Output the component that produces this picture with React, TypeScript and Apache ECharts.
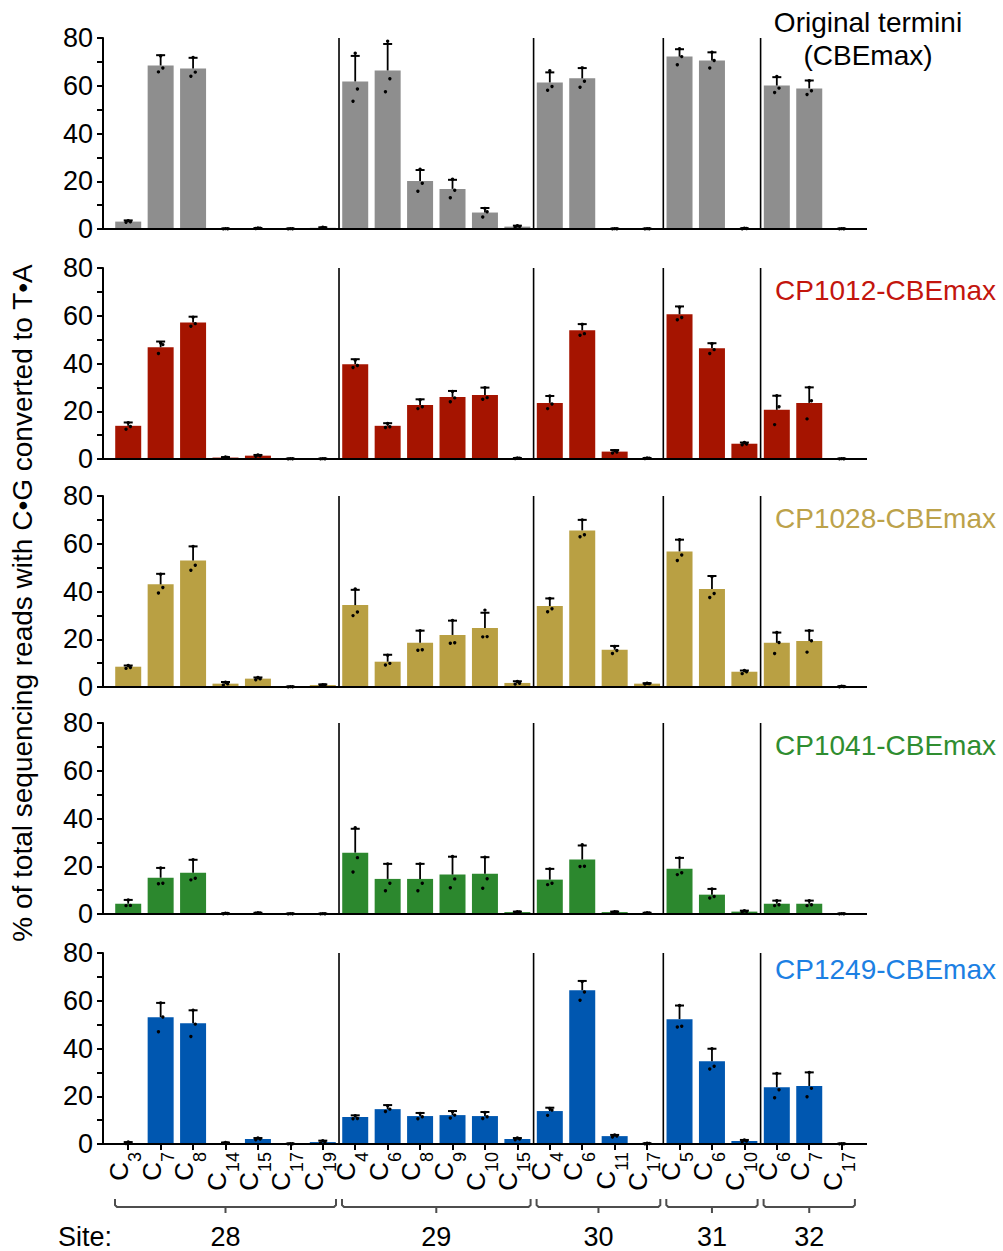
import React, { useEffect, useRef } from 'react';
import * as echarts from 'echarts';

// ---------- data ----------
const CATEGORIES = ['C3', 'C7', 'C8', 'C14', 'C15', 'C17', 'C19', 'C4', 'C6', 'C8', 'C9', 'C10', 'C15', 'C4', 'C6', 'C11', 'C17', 'C5', 'C6', 'C10', 'C6', 'C7', 'C17'];
const SITES = ['28', '29', '30', '31', '32'];
const SITE_SIZES = [7, 6, 4, 3, 3];
const Y_MIN = 0;
const Y_MAX = 80;
const Y_STEP = 20;

const PANEL_NAMES = ['Original termini\n(CBEmax)', 'CP1012-CBEmax', 'CP1028-CBEmax', 'CP1041-CBEmax', 'CP1249-CBEmax'];
const BAR_COLORS = ['#8e8e8e', '#a51400', '#b9a043', '#2c882e', '#0057b0'];
const TITLE_COLORS = ['#000000', '#c3150d', '#bca24a', '#2f8d30', '#1c80e3'];

const MEAN_ORIGINAL = [3.1, 68.5, 67.2, 0.1, 0.3, 0.1, 0.5, 61.8, 66.4, 20.1, 16.8, 6.9, 1.0, 61.4, 63.1, 0.1, 0.1, 72.2, 70.6, 0.2, 60.1, 58.9, 0.1];
const SD_ORIGINAL = [0.5, 4.3, 4.5, 0.05, 0.1, 0.05, 0.2, 10.7, 11.1, 4.6, 3.8, 1.9, 0.4, 4.2, 4.3, 0.05, 0.05, 3.1, 3.4, 0.05, 3.5, 3.3, 0.05];
const REPS_ORIGINAL = [
  [2.8, 3.0, 3.5], [65.8, 67.4, 72.5], [64.0, 65.7, 71.8], [0.05, 0.1, 0.15], [0.2, 0.3, 0.4], [0.05, 0.1, 0.15], [0.3, 0.5, 0.7],
  [53.5, 58.6, 73.6], [57.5, 62.9, 78.6], [15.8, 19.2, 25.0], [13.1, 16.2, 20.8], [5.0, 7.2, 8.6], [0.6, 1.0, 1.4],
  [58.1, 59.7, 66.3], [59.4, 61.9, 67.5], [0.05, 0.1, 0.15], [0.05, 0.1, 0.15],
  [68.8, 72.2, 75.5], [67.4, 70.6, 74.0], [0.1, 0.2, 0.3],
  [57.2, 59.0, 63.9], [56.3, 57.9, 62.1], [0.05, 0.1, 0.15],
];

const MEAN_CP1012 = [13.9, 46.8, 57.2, 0.6, 1.4, 0.1, 0.1, 39.7, 13.9, 22.6, 26.0, 26.8, 0.3, 23.5, 53.9, 3.1, 0.3, 60.6, 46.4, 6.4, 20.6, 23.5, 0.1];
const SD_CP1012 = [1.4, 2.4, 2.4, 0.2, 0.3, 0.05, 0.05, 2.1, 1.1, 2.4, 2.5, 3.1, 0.1, 2.9, 2.6, 0.65, 0.1, 3.3, 2.1, 0.5, 5.9, 6.5, 0.05];
const REPS_CP1012 = [
  [12.5, 13.6, 15.2], [44.2, 47.9, 48.6], [55.6, 56.7, 59.4], [0.4, 0.6, 0.8], [1.1, 1.4, 1.7], [0.05, 0.1, 0.15], [0.05, 0.1, 0.15],
  [38.3, 39.2, 41.4], [13.2, 13.5, 14.9], [21.1, 21.9, 24.7], [24.0, 25.6, 28.3], [25.0, 25.7, 29.9], [0.2, 0.3, 0.4],
  [21.1, 23.0, 26.4], [51.8, 52.5, 56.4], [2.5, 2.9, 3.5], [0.2, 0.3, 0.4],
  [58.3, 59.3, 63.6], [44.2, 45.8, 48.3], [6.0, 6.3, 6.9],
  [14.4, 21.9, 26.5], [16.8, 24.4, 30.0], [0.05, 0.1, 0.15],
];

const MEAN_CP1028 = [8.5, 43.0, 53.0, 1.4, 3.5, 0.1, 0.8, 34.3, 10.6, 18.5, 21.8, 24.7, 1.7, 33.9, 65.6, 15.6, 1.4, 56.8, 41.0, 6.4, 18.5, 19.3, 0.2];
const SD_CP1028 = [0.5, 4.4, 5.9, 0.7, 0.5, 0.05, 0.3, 6.4, 2.9, 5.1, 6.0, 6.4, 0.7, 3.2, 4.4, 1.6, 0.2, 4.9, 5.5, 0.5, 4.3, 4.3, 0.05];
const REPS_CP1028 = [
  [7.8, 8.2, 9.0], [39.4, 41.7, 47.2], [48.9, 51.0, 58.9], [0.8, 1.3, 2.0], [3.0, 3.4, 4.0], [0.05, 0.1, 0.15], [0.6, 0.8, 1.0],
  [29.9, 31.4, 41.1], [9.2, 9.9, 13.3], [15.4, 15.6, 23.6], [18.3, 18.5, 27.9], [21.0, 21.1, 32.2], [1.2, 1.6, 2.3],
  [31.5, 32.8, 37.1], [62.9, 63.8, 70.0], [14.0, 15.3, 17.0], [1.2, 1.4, 1.6],
  [53.0, 55.3, 61.7], [37.5, 39.2, 46.2], [5.6, 6.4, 6.9],
  [14.0, 18.6, 22.8], [14.6, 19.4, 23.6], [0.1, 0.2, 0.3],
];

const MEAN_CP1041 = [4.3, 15.2, 17.3, 0.2, 0.4, 0.1, 0.1, 25.7, 14.7, 14.7, 16.5, 16.9, 0.8, 14.4, 22.8, 0.8, 0.4, 19.0, 8.1, 1.0, 4.3, 4.3, 0.1];
const SD_CP1041 = [1.6, 4.1, 5.4, 0.05, 0.1, 0.05, 0.05, 10.0, 6.3, 6.3, 7.5, 6.9, 0.2, 4.5, 5.9, 0.2, 0.1, 4.5, 2.4, 0.4, 1.3, 1.3, 0.05];
const REPS_CP1041 = [
  [3.5, 3.6, 5.9], [12.7, 12.9, 19.3], [14.3, 15.0, 22.7], [0.1, 0.2, 0.3], [0.3, 0.4, 0.5], [0.05, 0.1, 0.15], [0.05, 0.1, 0.15],
  [17.6, 23.6, 36.1], [9.7, 12.9, 21.0], [9.7, 12.9, 21.0], [11.0, 14.7, 24.1], [10.8, 14.8, 23.8], [0.6, 0.8, 1.0],
  [12.3, 12.9, 18.9], [19.9, 20.0, 29.0], [0.6, 0.8, 1.0], [0.3, 0.4, 0.5],
  [16.5, 17.3, 23.5], [6.7, 7.3, 10.5], [0.7, 1.0, 1.4],
  [3.5, 3.9, 5.6], [3.5, 3.9, 5.6], [0.05, 0.1, 0.15],
];

const MEAN_CP1249 = [0.4, 53.1, 50.6, 0.4, 2.1, 0.1, 0.8, 11.3, 14.6, 11.7, 12.1, 11.7, 2.1, 13.8, 64.4, 3.3, 0.2, 52.3, 34.7, 1.25, 23.8, 24.3, 0.1];
const SD_CP1249 = [0.4, 6.0, 5.4, 0.2, 0.4, 0.05, 0.6, 0.7, 1.7, 1.3, 1.7, 1.7, 0.4, 1.4, 3.9, 0.5, 0.05, 5.7, 5.2, 0.45, 5.7, 5.7, 0.05];
const REPS_CP1249 = [
  [0.2, 0.4, 0.8], [47.0, 53.2, 59.1], [45.0, 50.2, 56.0], [0.3, 0.4, 0.6], [1.8, 2.1, 2.5], [0.05, 0.1, 0.15], [0.4, 0.8, 1.4],
  [10.6, 10.7, 11.8], [13.6, 14.6, 16.0], [10.6, 11.4, 12.8], [10.9, 12.1, 13.5], [10.7, 11.4, 13.2], [1.8, 2.1, 2.5],
  [12.0, 14.2, 14.9], [60.2, 63.7, 68.0], [2.9, 3.3, 3.8], [0.1, 0.2, 0.3],
  [49.0, 49.3, 58.0], [31.4, 32.6, 39.9], [0.9, 1.2, 1.7],
  [19.4, 22.7, 29.5], [19.8, 23.3, 30.0], [0.05, 0.1, 0.15],
];

const MEANS = [MEAN_ORIGINAL, MEAN_CP1012, MEAN_CP1028, MEAN_CP1041, MEAN_CP1249];
const SDS = [SD_ORIGINAL, SD_CP1012, SD_CP1028, SD_CP1041, SD_CP1249];
const REPS = [REPS_ORIGINAL, REPS_CP1012, REPS_CP1028, REPS_CP1041, REPS_CP1249];

const Y_TITLE = '% of total sequencing reads with C\u2022G converted to T\u2022A';

// ---------- layout ----------
const FONT = '"Liberation Sans", Arial, Helvetica, sans-serif';
const GRID_LEFT = 112;
const BAND = 32.43;
const GRID_WIDTH = BAND * CATEGORIES.length;
const GRID_TOPS = [38, 268, 496, 723, 953];
const GRID_H = 191;
const AXIS_X0 = 103;
const AXIS_X1 = 867;
const TITLE_Y = [38.5, 290, 518, 745, 969];
const DOT_OFFSETS = [-2.2, 2.2, 0];

function buildOption() {
  const boundaries: number[] = [];
  let acc = 0;
  SITE_SIZES.forEach((s, k) => {
    if (k > 0) boundaries.push(acc);
    acc += s;
  });

  const grids: any[] = [];
  const xAxes: any[] = [];
  const yAxes: any[] = [];
  const series: any[] = [];
  const graphics: any[] = [];

  for (let p = 0; p < 5; p++) {
    const isLast = p === 4;
    grids.push({ left: GRID_LEFT, top: GRID_TOPS[p], width: GRID_WIDTH, height: GRID_H, containLabel: false });
    xAxes.push({
      type: 'category',
      gridIndex: p,
      data: CATEGORIES.map((c, i) => c + '#' + i),
      boundaryGap: true,
      axisLine: { show: true, lineStyle: { color: '#000', width: 2 } },
      axisTick: { show: isLast, alignWithLabel: true, interval: 0, length: 6, lineStyle: { color: '#000', width: 2 } },
      axisLabel: {
        show: isLast,
        interval: 0,
        rotate: 90,
        margin: 8,
        color: '#000',
        padding: [0, 0, 6, 0],
        formatter: (v: string) => {
          const c = v.split('#')[0];
          return '{c|C}{s|' + c.slice(1) + '}';
        },
        rich: {
          c: { fontSize: 26, fontFamily: FONT, color: '#000', verticalAlign: 'bottom', padding: [0, 0, 12, 0] },
          s: { fontSize: 18, fontFamily: FONT, color: '#000', verticalAlign: 'bottom' },
        },
      },
      splitLine: { show: false },
    });
    yAxes.push({
      type: 'value',
      gridIndex: p,
      min: Y_MIN,
      max: Y_MAX,
      interval: Y_STEP,
      offset: GRID_LEFT - AXIS_X0,
      axisLine: { show: true, lineStyle: { color: '#000', width: 2 } },
      axisTick: { show: true, inside: false, length: 6, lineStyle: { color: '#000', width: 2 } },
      minorTick: { show: true, splitNumber: 2, length: 6, lineStyle: { color: '#000', width: 2 } },
      axisLabel: { fontSize: 27, fontFamily: FONT, color: '#000', margin: 10 },
      splitLine: { show: false },
    });

    const means = MEANS[p];
    const sds = SDS[p];
    const reps = REPS[p];
    series.push({
      type: 'bar',
      xAxisIndex: p,
      yAxisIndex: p,
      data: means,
      barWidth: 26,
      itemStyle: { color: BAR_COLORS[p] },
      z: 2,
    });
    // site separators: vertical lines at the left edge of the first category of each site
    series.push({
      type: 'custom',
      xAxisIndex: p,
      yAxisIndex: p,
      z: 1,
      silent: true,
      data: boundaries.map((b) => [b, Y_MIN, Y_MAX]),
      renderItem: (params: any, api: any) => {
        const i = api.value(0);
        const bottom = api.coord([i, api.value(1)]);
        const top = api.coord([i, api.value(2)]);
        const half = api.size([1, 0])[0] / 2;
        return {
          type: 'line',
          shape: { x1: bottom[0] - half, y1: bottom[1], x2: top[0] - half, y2: top[1] },
          style: { stroke: '#000', lineWidth: 1.6 },
        };
      },
    });
    series.push({
      type: 'custom',
      xAxisIndex: p,
      yAxisIndex: p,
      z: 3,
      data: means.map((m, i) => [i, m, m + sds[i]]),
      renderItem: (params: any, api: any) => {
        const i = api.value(0);
        const base = api.coord([i, api.value(1)]);
        const top = api.coord([i, api.value(2)]);
        return {
          type: 'group',
          children: [
            { type: 'line', shape: { x1: base[0], y1: base[1], x2: top[0], y2: top[1] }, style: { stroke: '#000', lineWidth: 1.8 } },
            { type: 'line', shape: { x1: top[0] - 4.5, y1: top[1], x2: top[0] + 4.5, y2: top[1] }, style: { stroke: '#000', lineWidth: 2 } },
          ],
        };
      },
    });
    const dotData: number[][] = [];
    reps.forEach((r, i) => r.forEach((v, k) => dotData.push([i, v, k])));
    series.push({
      type: 'custom',
      xAxisIndex: p,
      yAxisIndex: p,
      z: 4,
      data: dotData,
      renderItem: (params: any, api: any) => {
        const pt = api.coord([api.value(0), api.value(1)]);
        const k = api.value(2);
        return { type: 'circle', shape: { cx: pt[0] + DOT_OFFSETS[k], cy: pt[1], r: 1.7 }, style: { fill: '#000' } };
      },
    });

    // x-axis baseline extends a little beyond the category bands
    const baseY = GRID_TOPS[p] + GRID_H;
    graphics.push({ type: 'line', shape: { x1: AXIS_X0, y1: baseY, x2: AXIS_X1, y2: baseY }, style: { stroke: '#000', lineWidth: 2 }, z: 10 });

    // panel title
    if (p === 0) {
      graphics.push({
        type: 'text', x: 868, y: TITLE_Y[p],
        style: { text: PANEL_NAMES[p], fill: TITLE_COLORS[p], font: '28px ' + FONT, textAlign: 'center', textVerticalAlign: 'middle', lineHeight: 33 },
      });
    } else {
      graphics.push({
        type: 'text', x: 996, y: TITLE_Y[p],
        style: { text: PANEL_NAMES[p], fill: TITLE_COLORS[p], font: '28px ' + FONT, textAlign: 'right', textVerticalAlign: 'middle' },
      });
    }
  }

  // y-axis title
  graphics.push({
    type: 'text', x: 22, y: 603, rotation: Math.PI / 2,
    style: { text: Y_TITLE, fill: '#000', font: '28px ' + FONT, textAlign: 'center', textVerticalAlign: 'middle' },
  });

  // site brackets and labels
  const bottomY = 1207;
  let start = 0;
  SITE_SIZES.forEach((s, k) => {
    const x1 = GRID_LEFT + start * BAND + 3;
    const x2 = GRID_LEFT + (start + s) * BAND - 3;
    const xm = (x1 + x2) / 2;
    graphics.push({
      type: 'polyline',
      shape: {
        points: [
          [x1, bottomY - 8], [x1, bottomY - 2], [x1 + 2, bottomY], [xm, bottomY], [xm, bottomY + 6], [xm, bottomY],
          [x2 - 2, bottomY], [x2, bottomY - 2], [x2, bottomY - 8],
        ],
      },
      style: { stroke: '#4d4d4d', lineWidth: 2, fill: null },
    });
    graphics.push({
      type: 'text', x: xm, y: 1237,
      style: { text: SITES[k], fill: '#000', font: '27px ' + FONT, textAlign: 'center', textVerticalAlign: 'middle' },
    });
    start += s;
  });
  graphics.push({
    type: 'text', x: 112, y: 1237,
    style: { text: 'Site:', fill: '#000', font: '27px ' + FONT, textAlign: 'right', textVerticalAlign: 'middle' },
  });

  return {
    animation: false,
    backgroundColor: '#fff',
    grid: grids,
    xAxis: xAxes,
    yAxis: yAxes,
    series,
    graphic: graphics,
  };
}

export default function App() {
  const ref = useRef<HTMLDivElement>(null);
  useEffect(() => {
    if (!ref.current) return;
    const chart = echarts.init(ref.current, undefined, { renderer: 'svg' });
    chart.setOption(buildOption() as any);
    return () => chart.dispose();
  }, []);
  return <div ref={ref} style={{ position: 'absolute', left: 0, top: 0, width: 1003, height: 1251 }} />;
}
